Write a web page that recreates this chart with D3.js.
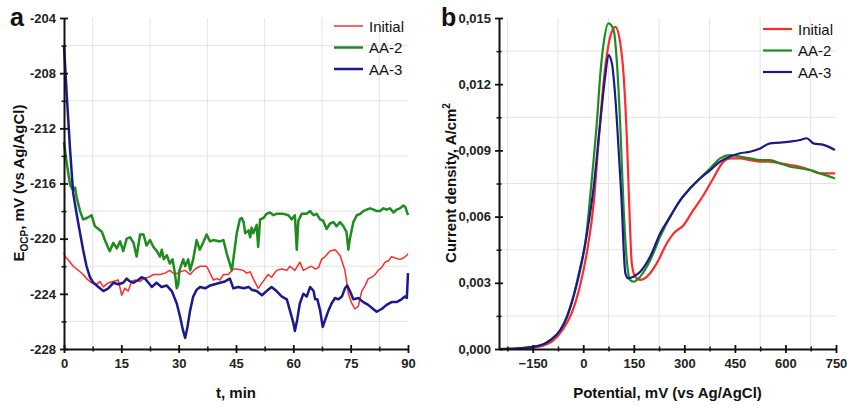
<!DOCTYPE html>
<html>
<head>
  <meta charset="utf-8">
  <title>OCP and polarization curves</title>
  <script src="https://d3js.org/d3.v7.min.js"></script>
  <style>
    body { margin: 0; background: #fff; }
    svg { font-family: "Liberation Sans", Arial, sans-serif; }
    .grid line { stroke: #e4e4e4; stroke-width: 1; }
    .tick text { font-family: "Liberation Sans Narrow", "Liberation Sans", Arial, sans-serif; font-weight: bold; font-size: 13px; fill: #222; }
    .domain, .tick line { stroke: #111; }
    .axis-title { font-weight: bold; font-size: 15px; fill: #111; }
    .panel-label { font-weight: bold; font-size: 25px; fill: #111; }
    .legend text { font-size: 15px; fill: #111; }
  </style>
</head>
<body>
  <script>
    // ---- panel a : open circuit potential vs time ----
    var seriesNames = ["Initial", "AA-2", "AA-3"];
    var colors = ["#ff2b2b", "#1e8c1e", "#1a1a8e"];

    var ocpTicksX = [0, 15, 30, 45, 60, 75, 90];
    var ocpTicksY = [-204, -208, -212, -216, -220, -224, -228];

    var ocpInitial = [[0,-221.0],[0.3,-221.3],[1.3,-221.6],[2.4,-222.0],[3.3,-222.2],[4.2,-222.4],[5,-222.6],[5.9,-222.9],[7.2,-223.2],[8.6,-223.3],[9.4,-223.1],[10.3,-223.5],[11.6,-223.2],[12.9,-223.1],[14.2,-223.0],[15.1,-224.1],[15.9,-223.6],[16.8,-223.8],[17.7,-223.1],[18.6,-223.0],[19.9,-223.1],[20.8,-222.9],[22.1,-222.8],[23.4,-222.6],[25.1,-222.6],[26.4,-222.5],[27.7,-222.3],[29,-222.6],[30.4,-222.4],[31.7,-222.3],[33,-222.6],[34.3,-222.2],[35.6,-222.0],[37.3,-222.0],[38.2,-222.5],[39.1,-223.0],[40,-222.9],[40.8,-223.0],[41.7,-222.6],[43,-222.6],[44.3,-222.2],[45.2,-222.2],[46.9,-222.3],[47.8,-222.5],[48.7,-222.4],[49.5,-222.9],[50.8,-223.6],[52.1,-223.1],[53.4,-222.6],[54.3,-222.8],[55.6,-222.3],[57,-222.2],[58.3,-222.3],[59.1,-222.0],[60.4,-222.3],[61.7,-221.7],[62.6,-222.3],[63.9,-222.1],[64.8,-222.0],[65.7,-222.2],[66.6,-222.1],[67.4,-221.5],[68.3,-221.3],[69.6,-220.9],[70.9,-220.8],[72.2,-221.2],[73.5,-222.3],[74.4,-224.0],[75.3,-224.7],[76.1,-225.1],[77,-224.9],[77.9,-223.8],[78.8,-223.4],[79.6,-222.9],[80.5,-222.8],[81.4,-222.6],[82.2,-222.3],[83.1,-222.1],[84,-221.7],[84.9,-221.6],[85.7,-221.3],[86.6,-221.4],[87.9,-221.5],[88.8,-221.4],[89.7,-221.2],[90,-221.1]];

    var ocpAA2 = [[0,-213.0],[0.7,-214.5],[1.6,-216.1],[2.4,-216.5],[2.9,-216.3],[3.3,-217],[4.2,-218],[5,-218.6],[6,-218.5],[7.2,-218.3],[8.1,-219.1],[9,-219.3],[9.9,-219.5],[10.7,-220.1],[11.6,-220.7],[12,-220.9],[12.9,-220.3],[13.8,-220.7],[14.7,-220.2],[15.5,-220.9],[16.4,-220.0],[17.3,-219.9],[18.2,-220.3],[19,-221.3],[19.9,-219.7],[20.8,-219.7],[21.6,-220.5],[22.5,-220.1],[23.4,-220.6],[24.3,-220.9],[25.1,-221.3],[25.6,-220.8],[26.1,-221.5],[26.9,-221.2],[27.7,-221.8],[28.4,-221.5],[29,-222.5],[29.5,-223.6],[29.9,-223.3],[30.2,-222.3],[31.2,-221.5],[31.7,-222],[32.5,-221.5],[33,-222.3],[33.8,-221.5],[34.7,-220.1],[35.5,-220.8],[36.4,-220.3],[37.3,-219.7],[38.2,-220.2],[39.1,-220.1],[40.8,-220.2],[41.7,-220.1],[42.6,-221.1],[43.9,-222.3],[44.3,-221.5],[45.2,-219.6],[46,-218.6],[46.5,-218.5],[47,-218.8],[47.4,-219.6],[48.3,-219.4],[48.7,-219.9],[49.1,-219.2],[49.5,-219.6],[50,-219.3],[50.4,-219.0],[50.8,-220.6],[51.3,-218.6],[52.2,-218.5],[53,-218.2],[53.9,-218.1],[54.8,-218.3],[55.6,-218.2],[57.4,-218.2],[58.7,-218.3],[59.6,-218.6],[60.4,-218.3],[60.9,-220.8],[61.3,-218.7],[62.2,-218.2],[63.5,-218.2],[64.4,-218.0],[65.3,-218.3],[66.1,-218.2],[67,-218.6],[67.8,-218.7],[68.7,-219.3],[69.6,-218.9],[70.5,-218.8],[71.3,-219.1],[72.2,-218.8],[73.1,-219.1],[73.9,-219.5],[74.4,-220.8],[74.8,-220.0],[75.7,-218.8],[76.6,-218.3],[77.5,-218.2],[78.3,-218],[79.2,-217.9],[80.1,-217.8],[81,-217.9],[81.8,-218],[82.7,-218],[83.6,-217.8],[84.4,-217.9],[85.3,-217.8],[86.2,-218.1],[87,-217.9],[87.9,-217.8],[88.8,-217.6],[89.3,-217.7],[90,-218.3]];

    var ocpAA3 = [[0,-206.0],[0.7,-209.5],[1.6,-213.6],[2.4,-216.7],[3.3,-218.2],[4.2,-219.6],[5,-220.8],[5.9,-222.0],[6.8,-222.8],[7.7,-223.2],[9,-223.5],[10.3,-223.8],[11.6,-223.6],[12.9,-223.2],[14.2,-223.3],[15.5,-223.2],[16.4,-222.9],[17.3,-223.1],[18.2,-223.2],[19.4,-223.0],[20.3,-222.8],[21.2,-222.9],[22.1,-223.2],[23,-223.5],[24.2,-223.2],[25.5,-223.5],[26.9,-223.4],[28.2,-223.8],[29.5,-224.7],[30.4,-225.7],[31.1,-226.6],[31.7,-227.2],[32.3,-226.4],[33,-225.2],[33.8,-224.2],[34.7,-223.7],[35.6,-223.5],[36.9,-223.6],[38.2,-223.4],[39.5,-223.3],[40.8,-223.2],[42.1,-223.1],[43.4,-222.9],[44.3,-223.6],[45.6,-223.5],[47,-223.6],[48.3,-223.5],[49.1,-223.7],[50.4,-223.8],[51.8,-224.1],[53,-223.8],[54.3,-223.5],[55.6,-223.8],[57,-224.2],[58.3,-224.4],[59.1,-225.2],[60,-226.1],[60.4,-226.7],[61,-225.9],[61.7,-224.7],[62.6,-224.0],[63.5,-224.2],[64.4,-223.5],[65.3,-223.8],[65.7,-224.4],[66.3,-224.4],[67,-225.2],[67.7,-226.4],[68.3,-225.9],[69.2,-225.2],[70,-224.7],[70.9,-224.3],[71.8,-224.4],[72.7,-224.2],[73.5,-223.6],[74.1,-223.4],[74.8,-223.8],[75.7,-224.4],[77,-224.3],[78.3,-224.6],[79.6,-224.8],[80.9,-225.1],[81.8,-225.3],[83.1,-225.1],[84.4,-224.8],[85.7,-224.6],[87,-224.6],[88.3,-224.4],[89.2,-224.2],[89.7,-224.3],[90,-222.5]];

    // ---- panel b : potentiodynamic curves ----
    var potTicksX = [-150, 0, 150, 300, 450, 600, 750];
    var potTicksY = [0, 0.003, 0.006, 0.009, 0.012, 0.015];

    var polInitial = [[-250,0],[-200,0.00001],[-150,0.00006],[-120,0.00015],[-88,0.0004],[-60,0.0009],[-35,0.0016],[-9,0.0029],[11,0.0044],[31,0.0066],[45,0.00932],[60,0.01204],[80,0.01415],[95,0.0146],[110,0.01385],[120,0.01234],[130,0.00932],[137,0.0063],[144,0.00388],[154,0.00328],[169,0.00313],[189,0.00328],[218,0.00388],[248,0.00479],[268,0.00524],[297,0.0056],[327,0.0063],[357,0.00698],[386,0.00774],[416,0.00849],[436,0.00864],[465,0.00864],[495,0.00856],[525,0.00849],[554,0.00849],[584,0.00841],[614,0.00834],[643,0.00826],[673,0.00811],[703,0.00796],[732,0.00796],[747,0.00796]];

    var polAA2 = [[-250,0],[-200,0.00002],[-150,0.0001],[-120,0.0002],[-98,0.0004],[-68,0.00086],[-48,0.0015],[-29,0.0024],[-9,0.0037],[6,0.00479],[26,0.0078],[41,0.01038],[50,0.01234],[60,0.0138],[75,0.01476],[90,0.01446],[100,0.01295],[110,0.01007],[120,0.0063],[130,0.00388],[139,0.00313],[149,0.00305],[169,0.00328],[199,0.00403],[228,0.00509],[258,0.006],[288,0.00675],[317,0.00728],[347,0.00774],[377,0.00819],[406,0.00864],[436,0.00879],[465,0.00872],[495,0.00864],[525,0.00856],[554,0.00856],[584,0.00841],[614,0.00826],[643,0.00819],[673,0.00811],[703,0.00796],[732,0.00781],[747,0.00773]];

    var polAA3 = [[-250,0],[-200,0.00002],[-150,0.0001],[-120,0.0002],[-98,0.0004],[-68,0.00086],[-48,0.00146],[-29,0.00237],[-9,0.0036],[11,0.00524],[31,0.00735],[50,0.0102],[65,0.01234],[75,0.01332],[85,0.01295],[95,0.01143],[105,0.00902],[115,0.0063],[120,0.00449],[125,0.00343],[134,0.0032],[149,0.00328],[169,0.0035],[199,0.0042],[228,0.00524],[258,0.006],[288,0.00675],[317,0.00728],[347,0.00774],[377,0.00811],[406,0.00849],[436,0.00872],[465,0.00887],[495,0.00894],[525,0.00909],[554,0.00932],[584,0.00935],[614,0.0094],[643,0.00947],[663,0.00955],[683,0.00932],[713,0.00925],[747,0.00902]];

    var svg = d3.select("body")
      .append("svg")
      .attr("width", 847)
      .attr("height", 406);

    function comma(v) { return d3.format(".3f")(v).replace(".", ","); }

    function drawPanel(opt) {
      var g = svg.append("g");
      var x = d3.scaleLinear().domain(opt.xDomain).range(opt.xRange);
      var y = d3.scaleLinear().domain(opt.yDomain).range([349, 18]);

      // grid at the minor tick positions
      var grid = g.append("g").attr("class", "grid");
      grid.selectAll(".gx").data(opt.xMinor).enter().append("line")
        .attr("x1", d => x(d)).attr("x2", d => x(d))
        .attr("y1", y.range()[0]).attr("y2", y.range()[1]);
      grid.selectAll(".gy").data(opt.yMinor).enter().append("line")
        .attr("x1", opt.xRange[0]).attr("x2", opt.xRange[1])
        .attr("y1", d => y(d)).attr("y2", d => y(d));

      var line = d3.line().x(d => x(d[0])).y(d => y(d[1])).curve(opt.curve);
      opt.series.forEach(function(s, i) {
        g.append("path")
          .datum(s)
          .attr("fill", "none")
          .attr("stroke", colors[i])
          .attr("stroke-width", opt.widths[i])
          .attr("stroke-linejoin", "round")
          .attr("d", line);
      });

      // minor ticks (crossing the axis)
      g.append("g").attr("transform", "translate(0,349)")
        .call(d3.axisBottom(x).tickValues(opt.xMinor).tickFormat(""))
        .call(a => a.select(".domain").remove())
        .call(a => a.selectAll(".tick line").attr("y1", -2.5).attr("y2", 2.5).attr("stroke-width", 1.5));
      g.append("g").attr("transform", "translate(" + opt.xRange[0] + ",0)")
        .call(d3.axisLeft(y).tickValues(opt.yMinor).tickFormat(""))
        .call(a => a.select(".domain").remove())
        .call(a => a.selectAll(".tick line").attr("x1", -2.5).attr("x2", 2.5).attr("stroke-width", 1.5));

      var ax = g.append("g").attr("transform", "translate(0,349)")
        .call(d3.axisBottom(x).tickValues(opt.xTicks).tickSize(4).tickSizeOuter(0).tickPadding(6));
      ax.selectAll(".tick line").attr("y1", -4).attr("y2", 4);
      var ay = g.append("g").attr("transform", "translate(" + opt.xRange[0] + ",0)")
        .call(d3.axisLeft(y).tickValues(opt.yTicks).tickSize(4).tickSizeOuter(0).tickPadding(4).tickFormat(opt.yFormat));
      ay.selectAll(".tick line").attr("x1", -4).attr("x2", 4);
      [ax, ay].forEach(function(a) {
        a.select(".domain").attr("stroke-width", 2);
        a.selectAll(".tick line").attr("stroke-width", 1.8);
      });

      // titles
      g.append("text").attr("class", "axis-title")
        .attr("x", (opt.xRange[0] + opt.xRange[1]) / 2).attr("y", 398)
        .attr("text-anchor", "middle").text(opt.xTitle);
      var yt = g.append("text").attr("class", "axis-title")
        .attr("transform", "translate(" + opt.yTitleX + ",183) rotate(-90)")
        .attr("text-anchor", "middle");
      opt.yTitle(yt);
      g.append("text").attr("class", "panel-label")
        .attr("x", opt.labelX).attr("y", 26).text(opt.label);

      // legend
      var lg = g.append("g").attr("class", "legend");
      seriesNames.forEach(function(n, i) {
        var ly = opt.legendY + i * 21.5;
        lg.append("line").attr("x1", opt.legendX).attr("x2", opt.legendX + 29)
          .attr("y1", ly).attr("y2", ly)
          .attr("stroke", colors[i]).attr("stroke-width", opt.widths[i]);
        lg.append("text").attr("x", opt.legendX + 35).attr("y", ly + 5.5).text(n);
      });
    }

    drawPanel({
      xDomain: [0, 90], xRange: [64, 408], yDomain: [-228, -204],
      xTicks: ocpTicksX, yTicks: ocpTicksY,
      xMinor: [7.5, 22.5, 37.5, 52.5, 67.5, 82.5],
      yMinor: [-206, -210, -214, -218, -222, -226],
      yFormat: d => d,
      series: [ocpInitial, ocpAA2, ocpAA3], widths: [1.5, 2.5, 2.5],
      curve: d3.curveLinear,
      xTitle: "t, min", yTitleX: 24,
      yTitle: function(t) {
        t.append("tspan").text("E");
        t.append("tspan").attr("font-size", "10px").attr("dy", 4).text("OCP");
        t.append("tspan").attr("dy", -4).text(", mV (vs Ag/AgCl)");
      },
      label: "a", labelX: 10, legendX: 334, legendY: 26
    });

    drawPanel({
      xDomain: [-250, 750], xRange: [499, 836], yDomain: [0, 0.015],
      xTicks: potTicksX, yTicks: potTicksY,
      xMinor: [-225, -75, 75, 225, 375, 525, 675],
      yMinor: [0.0015, 0.0045, 0.0075, 0.0105, 0.0135],
      yFormat: comma,
      series: [polInitial, polAA2, polAA3], widths: [2.2, 2.2, 2.2],
      curve: d3.curveMonotoneX,
      xTitle: "Potential, mV (vs Ag/AgCl)", yTitleX: 456,
      yTitle: function(t) {
        t.append("tspan").text("Current density, A/cm");
        t.append("tspan").attr("font-size", "10px").attr("dy", -6).text("2");
      },
      label: "b", labelX: 441, legendX: 763, legendY: 29
    });
  </script>
</body>
</html>
